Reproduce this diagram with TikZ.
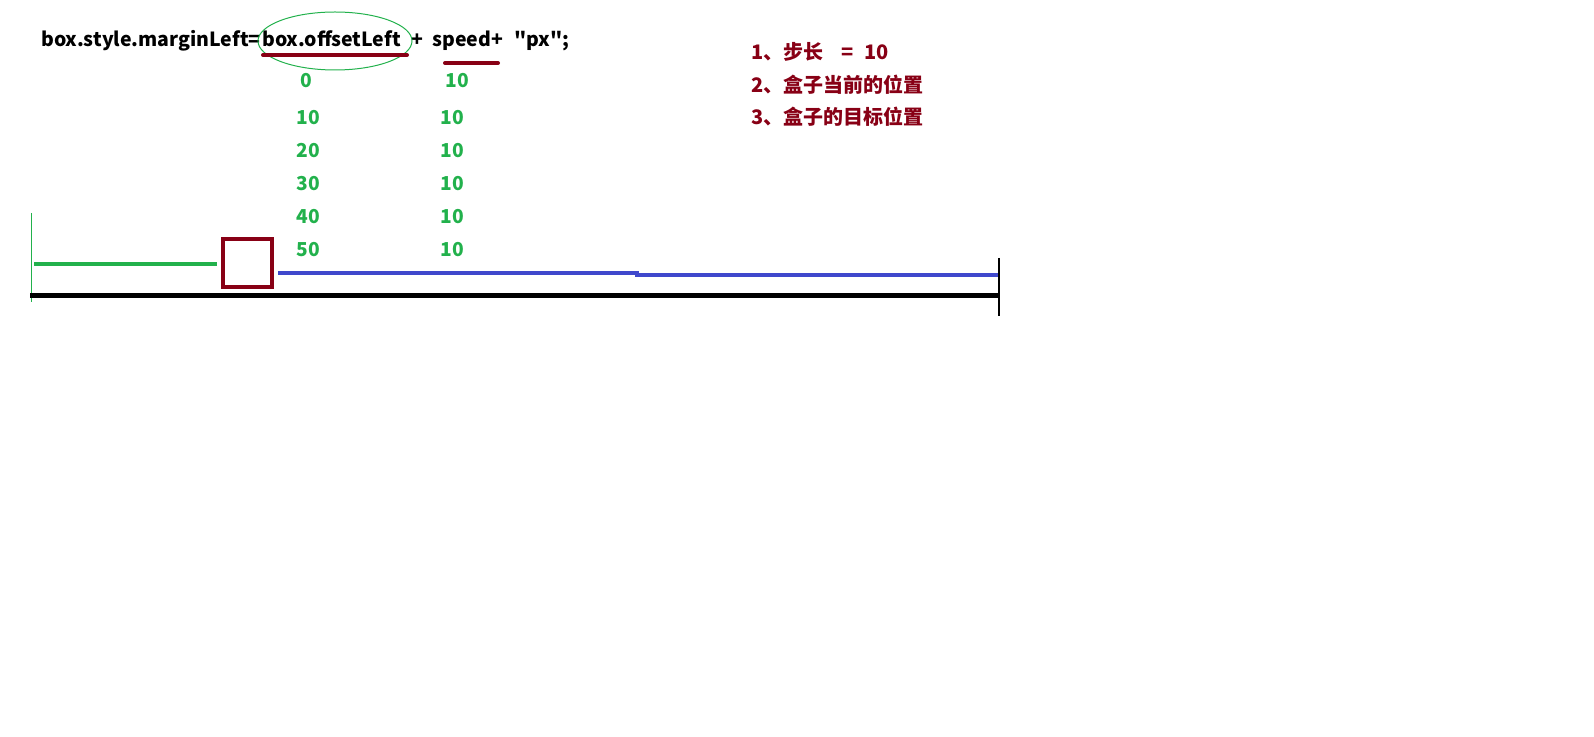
\documentclass[tikz,border=0pt]{standalone}
\usepackage{fontspec}
\setmainfont{Noto Sans CJK SC}
\newfontfamily\plainfont{Noto Sans CJK SC}[Ligatures=ResetAll]
\definecolor{dred}{HTML}{880015}
\definecolor{pgreen}{HTML}{22B14C}
\definecolor{pblue}{HTML}{3F48CC}
\begin{document}
\begin{tikzpicture}[x=0.75pt,y=-0.75pt,
  eq/.style={font=\bfseries\fontsize{14.6pt}{16pt}\selectfont,inner sep=0pt,anchor=base west},
  num/.style={font=\bfseries\fontsize{14.4pt}{16pt}\selectfont,text=pgreen,inner sep=0pt},
  note/.style={font=\bfseries\fontsize{15pt}{16pt}\selectfont,text=dred,inner sep=0pt,anchor=west},
  uline/.style={dred,line width=3pt,line cap=round}]
\useasboundingbox (0,0) rectangle (1594,737);
% equation
\node[eq] (e1) at (41,47) {box.style.marginLeft=};
\node[eq] (e2) at (262,47) {box.offsetLeft};
\node[eq] (e3) at (411,47) {+};
\node[eq] (e4) at (432,47) {speed+};
\node[eq,font=\plainfont\bfseries\fontsize{14.6pt}{16pt}\selectfont] (e5) at (514,47) {"px";};
\draw[pgreen,line width=0.75pt] (335,41) ellipse [x radius=77,y radius=29];
\draw[uline] (263,55) -- (407,55);
\draw[uline] (445,63) -- (498,63);
% numbers
\node[num] (a0) at (306,81) {0};
\node[num] (a1) at (308,118) {10};
\node[num] (a2) at (308,151) {20};
\node[num] (a3) at (308,184) {30};
\node[num] (a4) at (308,217) {40};
\node[num] (a5) at (308,250) {50};
\node[num] (b0) at (457,81) {10};
\node[num] (b1) at (452,118) {10};
\node[num] (b2) at (452,151) {10};
\node[num] (b3) at (452,184) {10};
\node[num] (b4) at (452,217) {10};
\node[num] (b5) at (452,250) {10};
% notes
\node[note] (n1) at (751,52) {1、步长\hspace{0.9em}=\hspace{0.55em}10};
\node[note] (n2) at (751,85) {2、盒子当前的位置};
\node[note] (n3) at (751,117) {3、盒子的目标位置};
% track
\draw[pgreen,line width=1.2pt] (31.5,213) -- (31.5,302);
\draw[pgreen,line width=2.5pt] (34,264) -- (217,264);
\draw[dred,line width=3.2pt] (223,239) rectangle (272,287);
\draw[pblue,line width=2.5pt] (278,273) -- (637,273) -- (637,275) -- (998,275);
\draw[black,line width=3.2pt] (30,295.5) -- (998,295.5);
\draw[black,line width=2pt] (999,258) -- (999,316);
\end{tikzpicture}
\end{document}
